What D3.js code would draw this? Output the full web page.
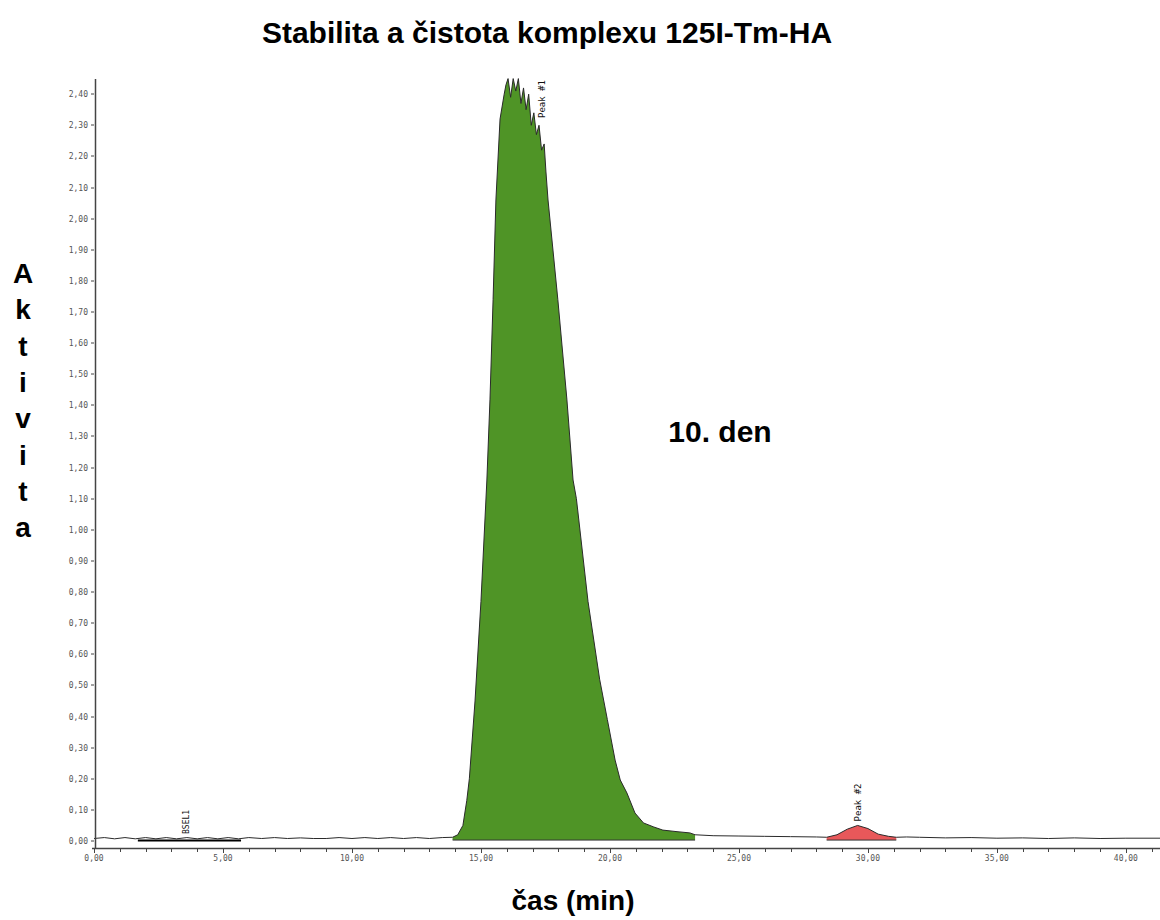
<!DOCTYPE html>
<html>
<head>
<meta charset="utf-8">
<script src="https://cdn.jsdelivr.net/npm/d3@7"></script>
<style>
  body { margin: 0; background: #fff; }
  svg { display: block; }
  .tick-label { font-family: "DejaVu Sans Mono", monospace; font-size: 8px; fill: #555; }
  .big { font-family: "Liberation Sans", Arial, sans-serif; font-weight: bold; fill: #000; }
</style>
</head>
<body>
<div id="vis"></div>
<script>
// retention time (min) and measured activity
var times = [0.0, 0.4, 0.8, 1.2, 1.6, 2.0, 2.4, 2.8, 3.2, 3.6, 4.0, 4.4, 4.8, 5.2, 5.6, 6.0, 6.5, 7.0, 7.5, 8.0,
  8.5, 9.0, 9.5, 10.0, 10.5, 11.0, 11.5, 12.0, 12.5, 13.0, 13.5, 13.9, 14.1, 14.3, 14.45, 14.55, 14.77, 15.0,
  15.23, 15.35, 15.47, 15.58, 15.74, 15.9, 15.97, 16.05, 16.15, 16.25, 16.35, 16.45, 16.55, 16.65, 16.75, 16.85,
  16.95, 17.05, 17.15, 17.25, 17.35, 17.45, 17.52, 17.6, 17.98, 18.33, 18.57, 18.7, 19.15, 19.6, 19.9, 20.2,
  20.4, 20.66, 20.97, 21.3, 21.7, 22.05, 22.6, 23.1, 23.3, 24.0, 25.0, 26.0, 27.0, 28.0, 28.4, 28.8, 29.2,
  29.6, 30.0, 30.4, 30.8, 31.1, 31.5, 32.0, 33.0, 34.0, 35.0, 36.0, 37.0, 38.0, 39.0, 40.0, 41.5];
var activity = [0.008, 0.011, 0.007, 0.011, 0.007, 0.011, 0.007, 0.011, 0.007, 0.011, 0.007, 0.011, 0.007, 0.011,
  0.007, 0.011, 0.008, 0.011, 0.008, 0.010, 0.008, 0.008, 0.011, 0.008, 0.011, 0.008, 0.011, 0.008, 0.011, 0.008,
  0.011, 0.012, 0.02, 0.05, 0.13, 0.2, 0.45, 0.77, 1.16, 1.42, 1.74, 2.06, 2.32, 2.40, 2.43, 2.45, 2.39, 2.45,
  2.41, 2.45, 2.37, 2.42, 2.35, 2.40, 2.30, 2.34, 2.27, 2.30, 2.22, 2.24, 2.15, 2.06, 1.74, 1.42, 1.16, 1.10, 0.77,
  0.52, 0.39, 0.26, 0.196, 0.154, 0.09, 0.058, 0.045, 0.035, 0.03, 0.026, 0.02, 0.017, 0.016, 0.015, 0.014,
  0.013, 0.012, 0.02, 0.038, 0.05, 0.04, 0.022, 0.015, 0.012, 0.013, 0.012, 0.010, 0.011, 0.009, 0.010, 0.008,
  0.010, 0.008, 0.009, 0.009];

var peakNames = ["Peak #1", "Peak #2"];
var peakStart = [13.9, 28.4];
var peakEnd = [23.3, 31.1];
var peakApex = [16.6, 29.6];
var baseName = "BSEL1";
var baseStart = 1.7, baseEnd = 5.7;

var yTicks = d3.range(0, 25).map(function(i) { return i / 10; });
var xMajor = [0, 5, 10, 15, 20, 25, 30, 35, 40];

var peakColors = ["#4f9426", "#e8585a"];

var data = times.map(function(t, i) { return {t: t, v: activity[i]}; });

var svg = d3.select("#vis").append("svg")
  .attr("width", 1160)
  .attr("height", 920);

var x = d3.scaleLinear().domain([0, 41.4]).range([94, 1162]);
var y = d3.scaleLinear().domain([0, 2.45]).range([841, 78.6]);

var fmt = function(v, d) { return v.toFixed(d).replace(".", ","); };

// peak areas
var area = d3.area()
  .x(function(d) { return x(d.t); })
  .y0(y(0.003))
  .y1(function(d) { return y(d.v); });

peakNames.forEach(function(name, i) {
  var seg = data.filter(function(d) { return d.t >= peakStart[i] && d.t <= peakEnd[i]; });
  svg.append("path")
    .datum(seg)
    .attr("d", area)
    .attr("fill", peakColors[i]);
  svg.append("line")
    .attr("x1", x(peakStart[i])).attr("x2", x(peakEnd[i]))
    .attr("y1", y(0.003)).attr("y2", y(0.003))
    .attr("stroke", "#333").attr("stroke-width", 1);
});

// baseline segment
svg.append("line")
  .attr("x1", x(baseStart)).attr("x2", x(baseEnd))
  .attr("y1", y(0.002)).attr("y2", y(0.002))
  .attr("stroke", "#000").attr("stroke-width", 2);

// trace
var line = d3.line()
  .x(function(d) { return x(d.t); })
  .y(function(d) { return y(d.v); });

svg.append("path")
  .datum(data)
  .attr("d", line)
  .attr("fill", "none")
  .attr("stroke", "#2a2a2a")
  .attr("stroke-width", 1);

// axes
svg.append("line")
  .attr("x1", 95.5).attr("x2", 95.5)
  .attr("y1", 79).attr("y2", 849)
  .attr("stroke", "#444").attr("stroke-width", 1.5);
svg.append("line")
  .attr("x1", 92).attr("x2", 1160)
  .attr("y1", 848.5).attr("y2", 848.5)
  .attr("stroke", "#444").attr("stroke-width", 1.5);

var yt = svg.append("g").selectAll("g").data(yTicks).enter().append("g")
  .attr("transform", function(d) { return "translate(0," + Math.round(y(d)) + ")"; });
yt.append("line").attr("x1", 91).attr("x2", 94).attr("stroke", "#444");
yt.append("text")
  .attr("class", "tick-label")
  .attr("x", 88).attr("dy", "0.32em")
  .attr("text-anchor", "end")
  .text(function(d) { return fmt(d, 2); });

var xMinor = d3.range(0, 42);
svg.append("g").selectAll("line").data(xMinor).enter().append("line")
  .attr("x1", function(d) { return Math.round(x(d)) + 0.5; })
  .attr("x2", function(d) { return Math.round(x(d)) + 0.5; })
  .attr("y1", 849).attr("y2", function(d) { return d % 5 === 0 ? 853 : 852; })
  .attr("stroke", "#444");
svg.append("g").selectAll("text").data(xMajor).enter().append("text")
  .attr("class", "tick-label")
  .attr("x", function(d) { return x(d); })
  .attr("y", 861)
  .attr("text-anchor", "middle")
  .text(function(d) { return fmt(d, 2); });

// peak labels
peakNames.forEach(function(name, i) {
  var apex = d3.max(data.filter(function(d) { return d.t >= peakStart[i] && d.t <= peakEnd[i]; }), function(d) { return d.v; });
  var px = i === 0 ? x(peakApex[i]) + 23 : x(peakApex[i]) + 3;
  var py = i === 0 ? 118 : y(apex) - 4;
  svg.append("text")
    .attr("class", "tick-label")
    .attr("transform", "translate(" + px + "," + py + ") rotate(-90)")
    .style("fill", "#111")
    .style("font-size", "9px")
    .text(name);
});
svg.append("text")
  .attr("class", "tick-label")
  .style("fill", "#111")
  .attr("transform", "translate(" + x((baseStart + baseEnd) / 2) + ",834) rotate(-90)")
  .text(baseName);

// titles
svg.append("text")
  .attr("class", "big")
  .attr("x", 547).attr("y", 43)
  .attr("text-anchor", "middle")
  .style("font-size", "30px")
  .text("Stabilita a čistota komplexu 125I-Tm-HA");

svg.append("text")
  .attr("class", "big")
  .attr("x", 720).attr("y", 442)
  .attr("text-anchor", "middle")
  .style("font-size", "30px")
  .text("10. den");

svg.append("text")
  .attr("class", "big")
  .attr("x", 573).attr("y", 910)
  .attr("text-anchor", "middle")
  .style("font-size", "28px")
  .text("čas (min)");

var yLabel = "Aktivita".split("");
svg.append("g").selectAll("text").data(yLabel).enter().append("text")
  .attr("class", "big")
  .attr("x", 23)
  .attr("y", function(d, i) { return 283 + i * 36.3; })
  .attr("text-anchor", "middle")
  .style("font-size", "28px")
  .text(function(d) { return d; });
</script>
</body>
</html>
